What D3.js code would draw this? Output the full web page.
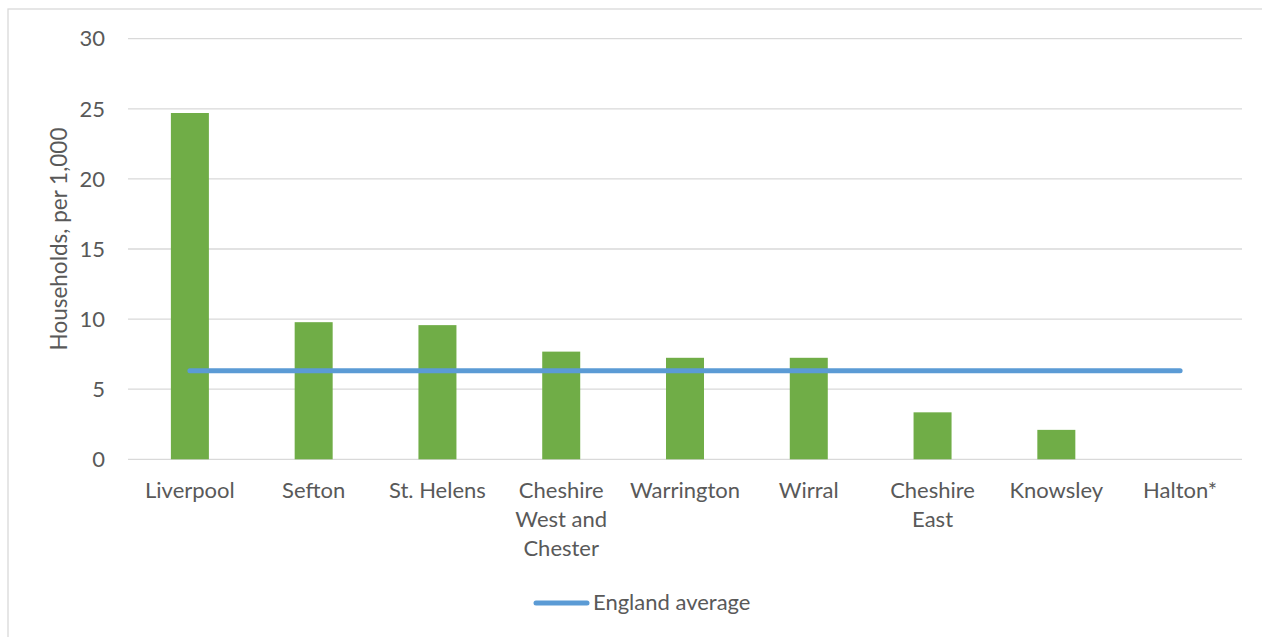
<!DOCTYPE html>
<html>
<head>
<meta charset="utf-8">
<script src="https://cdn.jsdelivr.net/npm/d3@7"></script>
<style>
  body { margin: 0; background: #fff; }
  text { font-family: Lato, "Open Sans", sans-serif; fill: #595959; }
</style>
</head>
<body>
<script>
let areas = ['Liverpool', 'Sefton', 'St. Helens', 'Cheshire West and Chester',
  'Warrington', 'Wirral', 'Cheshire East', 'Knowsley', 'Halton*']
let households = [24.7, 9.78, 9.57, 7.68, 7.24, 7.24, 3.35, 2.1, 0]
let englandAverage = 6.32
let yTicks = [0, 5, 10, 15, 20, 25, 30]

width = 1262
height = 637
margin = ({
  'left': 128,
  'right': 20,
  'top': 38.7,
  'bottom': 177.7
})

let svg = d3.select('body')
  .append('svg')
  .attr('width', width)
  .attr('height', height)

// chart border
svg.append('rect')
  .attr('x', 8).attr('y', 9)
  .attr('width', 1300).attr('height', 700)
  .attr('fill', 'none')
  .attr('stroke', '#d9d9d9')
  .attr('stroke-width', 1.3)

let x = d3.scaleBand()
  .domain(areas)
  .range([margin.left, 1242])

let y = d3.scaleLinear()
  .domain([0, 30])
  .range([height - margin.bottom, margin.top])

let barW = x.bandwidth() * 0.307

// gridlines
svg.append('g')
  .selectAll('line')
  .data(yTicks)
  .join('line')
    .attr('x1', x.range()[0])
    .attr('x2', x.range()[1])
    .attr('y1', d => y(d))
    .attr('y2', d => y(d))
    .attr('stroke', '#d9d9d9')
    .attr('stroke-width', 1.3)

// y labels
svg.append('g')
  .selectAll('text')
  .data(yTicks)
  .join('text')
    .attr('x', 105)
    .attr('y', d => y(d))
    .attr('dy', '0.35em')
    .attr('text-anchor', 'end')
    .attr('font-size', 22)
    .text(d => d)

// bars
svg.append('g')
  .selectAll('rect')
  .data(areas)
  .join('rect')
    .attr('x', (d, i) => x(d) + x.bandwidth() / 2 - barW / 2)
    .attr('y', (d, i) => y(households[i]))
    .attr('width', barW)
    .attr('height', (d, i) => y(0) - y(households[i]))
    .attr('fill', '#70ad47')

// England average line
let line = d3.line()
  .x(d => x(d) + x.bandwidth() / 2)
  .y(() => y(englandAverage))

svg.append('path')
  .attr('d', line(areas))
  .attr('fill', 'none')
  .attr('stroke', '#5b9bd5')
  .attr('stroke-width', 5)
  .attr('stroke-linecap', 'round')

// x labels, wrapped
let xl = svg.append('g')
  .selectAll('text')
  .data(areas)
  .join('text')
    .attr('text-anchor', 'middle')
    .attr('font-size', 22)
    .attr('x', d => x(d) + x.bandwidth() / 2)
    .attr('y', 498)

xl.each(function(d) {
  let t = d3.select(this)
  let cx = x(d) + x.bandwidth() / 2
  let words = d.split(' ')
  let lines = []
  let cur = []
  let probe = t.append('tspan')
  words.forEach(w => {
    probe.text(cur.concat(w).join(' '))
    if (cur.length && probe.node().getComputedTextLength() > 116) {
      lines.push(cur.join(' '))
      cur = [w]
    } else {
      cur.push(w)
    }
  })
  lines.push(cur.join(' '))
  probe.remove()
  lines.forEach((l, i) => {
    t.append('tspan')
      .attr('x', cx)
      .attr('dy', i ? 29 : 0)
      .text(l)
  })
})

// y title
svg.append('text')
  .attr('transform', 'translate(67, 239) rotate(-90)')
  .attr('text-anchor', 'middle')
  .attr('font-size', 22.5)
  .text('Households, per 1,000')

// legend
svg.append('line')
  .attr('x1', 536).attr('x2', 587)
  .attr('y1', 603).attr('y2', 603)
  .attr('stroke', '#5b9bd5')
  .attr('stroke-width', 5)
  .attr('stroke-linecap', 'round')

svg.append('text')
  .attr('x', 593)
  .attr('y', 610)
  .attr('font-size', 22)
  .text('England average')
</script>
</body>
</html>
